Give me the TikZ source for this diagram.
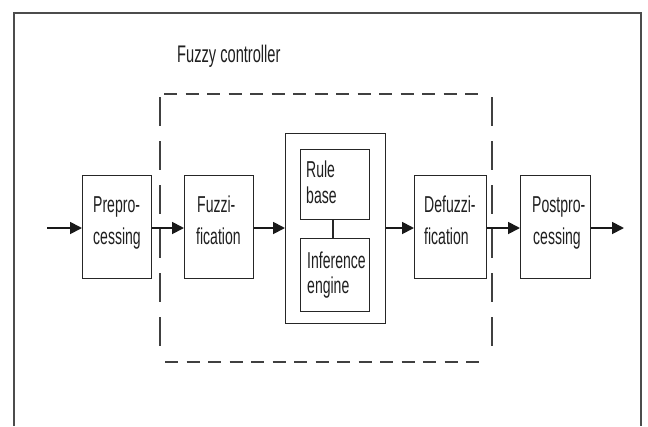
\documentclass[tikz,border=0pt]{standalone}
\usepackage{fontspec}
\setmainfont[FakeStretch=0.61]{Liberation Sans}
\usetikzlibrary{arrows.meta}
\begin{document}
\begin{tikzpicture}[x=1pt,y=-1pt,
  blk/.style={draw=black!85, line width=1.3pt, inner sep=0pt, anchor=north west},
  txt/.style={anchor=base west, inner sep=0pt, text=black!88, font=\fontsize{23}{28}\selectfont},
  flow/.style={draw=black!90, line width=1.8pt, -{Triangle[length=12pt,width=12pt]}},
  dashh/.style={draw=black!75, line width=2pt, dash pattern=on 13pt off 8.5pt},
  dashv/.style={draw=black!75, line width=2pt, dash pattern=on 29pt off 15pt},
  frm/.style={draw=black!70, line width=1.7pt}]
\useasboundingbox (0,0) rectangle (648,426);
% outer frame
\draw[frm] (14,426) -- (14,13) -- (641,13) -- (641,426);
% title
\node[txt, font=\fontsize{24}{28}\selectfont] (title) at (177,62) {Fuzzy controller};
% dashed controller border
\draw[dashh] (164,94) -- (486,94);
\draw[dashh] (165,362) -- (486,362);
\draw[dashv] (160,97) -- (160,353);
\draw[dashv] (492,97) -- (492,353);
% boxes
\node[blk, minimum width=69pt, minimum height=103pt] (pre) at (82,175) {};
\node[blk, minimum width=69pt, minimum height=103pt] (fuz) at (184,175) {};
\node[blk, minimum width=100pt, minimum height=190pt] (core) at (285,133) {};
\node[blk, minimum width=69pt, minimum height=70pt] (rule) at (300,149) {};
\node[blk, minimum width=69pt, minimum height=73pt] (inf) at (300,238) {};
\node[blk, minimum width=72pt, minimum height=103pt] (def) at (414,175) {};
\node[blk, minimum width=70pt, minimum height=103pt] (post) at (520,175) {};
% texts
\node[txt] (pre1) at (93,212) {Prepro-};
\node[txt] (pre2) at (93,244) {cessing};
\node[txt] (fuz1) at (197,212) {Fuzzi-};
\node[txt] (fuz2) at (196,244) {fication};
\node[txt] (rule1) at (306,177) {Rule};
\node[txt] (rule2) at (306,203) {base};
\node[txt] (inf1) at (307,268) {Inference};
\node[txt] (inf2) at (307,293) {engine};
\node[txt] (def1) at (424,212) {Defuzzi-};
\node[txt] (def2) at (424,244) {fication};
\node[txt] (post1) at (532,212) {Postpro-};
\node[txt] (post2) at (533,244) {cessing};
% connectors
\coordinate (in) at (47,228);
\coordinate (out) at (624,228);
\draw[flow] (in) -- (pre.west |- in);
\draw[flow] (pre.east |- in) -- (fuz.west |- in);
\draw[flow] (fuz.east |- in) -- (core.west |- in);
\draw[flow] (core.east |- in) -- (def.west |- in);
\draw[flow] (def.east |- in) -- (post.west |- in);
\draw[flow] (post.east |- in) -- (out);
\draw[draw=black!85, line width=1.3pt] (rule.south -| 333,0) -- (inf.north -| 333,0);
\end{tikzpicture}
\end{document}
